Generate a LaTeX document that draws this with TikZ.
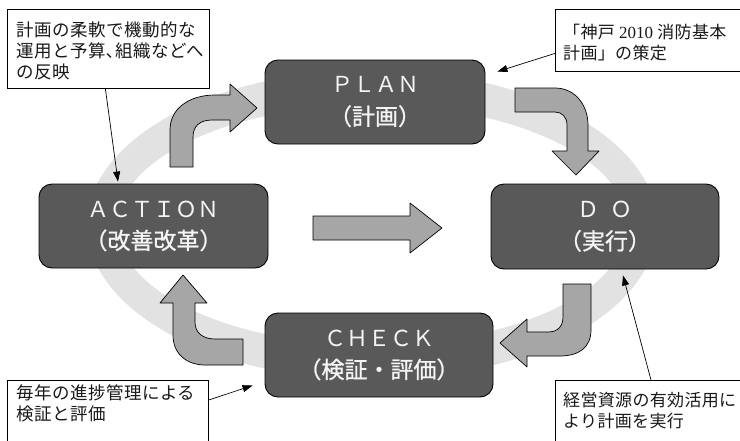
\documentclass[tikz,border=0pt]{standalone}
\usepackage{fontspec}
\setmainfont{Liberation Serif}
\newfontfamily\gothic{Noto Sans CJK JP}
\newfontfamily\gothicheavy[FakeBold=1]{Noto Sans CJK JP}
\newfontfamily\notefont[LetterSpace=3]{Noto Sans CJK JP}
\newfontfamily\notefontnarrow[LetterSpace=2]{Noto Sans CJK JP}
\newcommand\kanjiline{\gothicheavy\fontsize{23}{32}\selectfont}
\usetikzlibrary{arrows.meta}
\definecolor{stagefill}{HTML}{595959}
\definecolor{flowfill}{HTML}{A6A6A6}
\definecolor{ringfill}{HTML}{E2E2E2}
\definecolor{stagetext}{HTML}{F4F4F4}

\begin{document}
\begin{tikzpicture}[x=1pt,y=-1pt,
  stage/.style={draw=black, line width=0.9pt, fill=stagefill, rounded corners=13pt,
    text=stagetext, font=\gothic\fontsize{22}{32}\selectfont, align=center, inner sep=0pt},
  notebox/.style={draw=black, line width=0.8pt, fill=white, anchor=north west, inner sep=0pt},
  notetext/.style={anchor=north west, inner sep=0pt, align=left, text=black!90,
    font=\notefont\fontsize{17.5}{21}\selectfont},
  flow/.style={draw=black, line width=0.7pt, fill=flowfill, line join=round},
  pointer/.style={draw=black, line width=0.7pt, -{Triangle[length=10pt,width=7pt]}},
]
\useasboundingbox (0,0) rectangle (740,440);
\clip (0,0) rectangle (740,440);

% background ring of the cycle
\fill[ringfill, even odd rule]
  (372,225) ellipse [x radius=285pt, y radius=155pt]
  (372,225) ellipse [x radius=255pt, y radius=120pt];

% the four stages
\node[stage, minimum width=220pt, minimum height=84pt] (plan) at (375,102) {ＰＬＡＮ\\{\kanjiline （計画）}};
\node[stage, minimum width=228pt, minimum height=85pt] (exec) at (605,226.5) {Ｄ\enspace Ｏ\\{\kanjiline （実行）}};
\node[stage, minimum width=229pt, minimum height=84pt] (act) at (153.5,226) {ＡＣＴＩＯＮ\\{\kanjiline （改善改革）}};
\node[stage, minimum width=228pt, minimum height=84pt] (check) at (379,355) {ＣＨＥＣＫ\\{\kanjiline （検証・評価）}};

% block arrows of the cycle
% centre: ACTION to DO
\path[flow] (313,216) -- (410,216) -- (410,203) -- (442,228) -- (410,253) -- (410,240)
  -- (313,240) -- cycle;
% ACTION to PLAN
\path[flow] (170,167) -- (170,130) .. controls (170,108) and (190,95) .. (215,95)
  -- (230,95) -- (230,84) -- (257,108) -- (230,132) -- (230,120) -- (212,120)
  .. controls (200,120) and (193,126) .. (193,137) -- (193,167) -- cycle;
% PLAN to DO
\path[flow] (515,88) -- (555,88) .. controls (575,88) and (588,105) .. (588,125)
  -- (588,151) -- (599,151) -- (576,175) -- (552,151) -- (567,151) -- (567,125)
  .. controls (567,117) and (562,112) .. (555,112) -- (515,112) -- cycle;
% DO to CHECK
\path[flow] (563,284) -- (591,284) -- (591,330) .. controls (591,348) and (578,356) .. (560,356)
  -- (527,356) -- (527,367) -- (500,343) -- (527,319) -- (527,332) -- (548,332)
  .. controls (558,332) and (563,326) .. (563,317) -- cycle;
% CHECK to ACTION
\path[flow] (243,339) -- (215,339) .. controls (203,339) and (195,333) .. (195,322)
  -- (195,303) -- (207,303) -- (183,275) -- (160,303) -- (173,303) -- (173,335)
  .. controls (173,355) and (188,365) .. (205,365) -- (243,365) -- cycle;

% callouts
\node[notebox, minimum width=202pt, minimum height=79pt] (note1) at (7,9) {};
\node[notetext] (note1text) at (16,22) {計画の柔軟で機動的な\\運用と予算､組織などへ\\の反映};

\node[notebox, minimum width=190pt, minimum height=62pt] (note2) at (555,9) {};
\node[notetext, font=\notefontnarrow\fontsize{17}{21}\selectfont] (note2text) at (563,24)
  {「神戸{\rmfamily\ 2010\ }消防基本\\計画」の策定};

\node[notebox, minimum width=201pt, minimum height=70pt] (note3) at (7,380) {};
\node[notetext] (note3text) at (16,385) {毎年の進捗管理による\\検証と評価};

\node[notebox, minimum width=190pt, minimum height=70pt] (note4) at (555,380) {};
\node[notetext, font=\notefontnarrow\fontsize{17}{21}\selectfont] (note4text) at (563,392)
  {経営資源の有効活用に\\より計画を実行};

% pointers from the callouts
\coordinate (t1) at ([xshift=-35.5pt,yshift=2pt]act.north);
\coordinate (t2) at ([xshift=12pt,yshift=-12pt]plan.north east);
\coordinate (t3) at ([xshift=-12pt,yshift=12pt]check.south west);
\coordinate (t4) at ([xshift=18pt,yshift=-6pt]exec.south);
\draw[pointer] ([xshift=-3pt]note1.south) -- (t1);
\draw[pointer] ([yshift=-13pt]note2.west) -- (t2);
\draw[pointer] ([yshift=-20pt]note3.north east) -- (t3);
\draw[pointer] ([xshift=96pt]note4.north west) -- (t4);
\end{tikzpicture}
\end{document}
